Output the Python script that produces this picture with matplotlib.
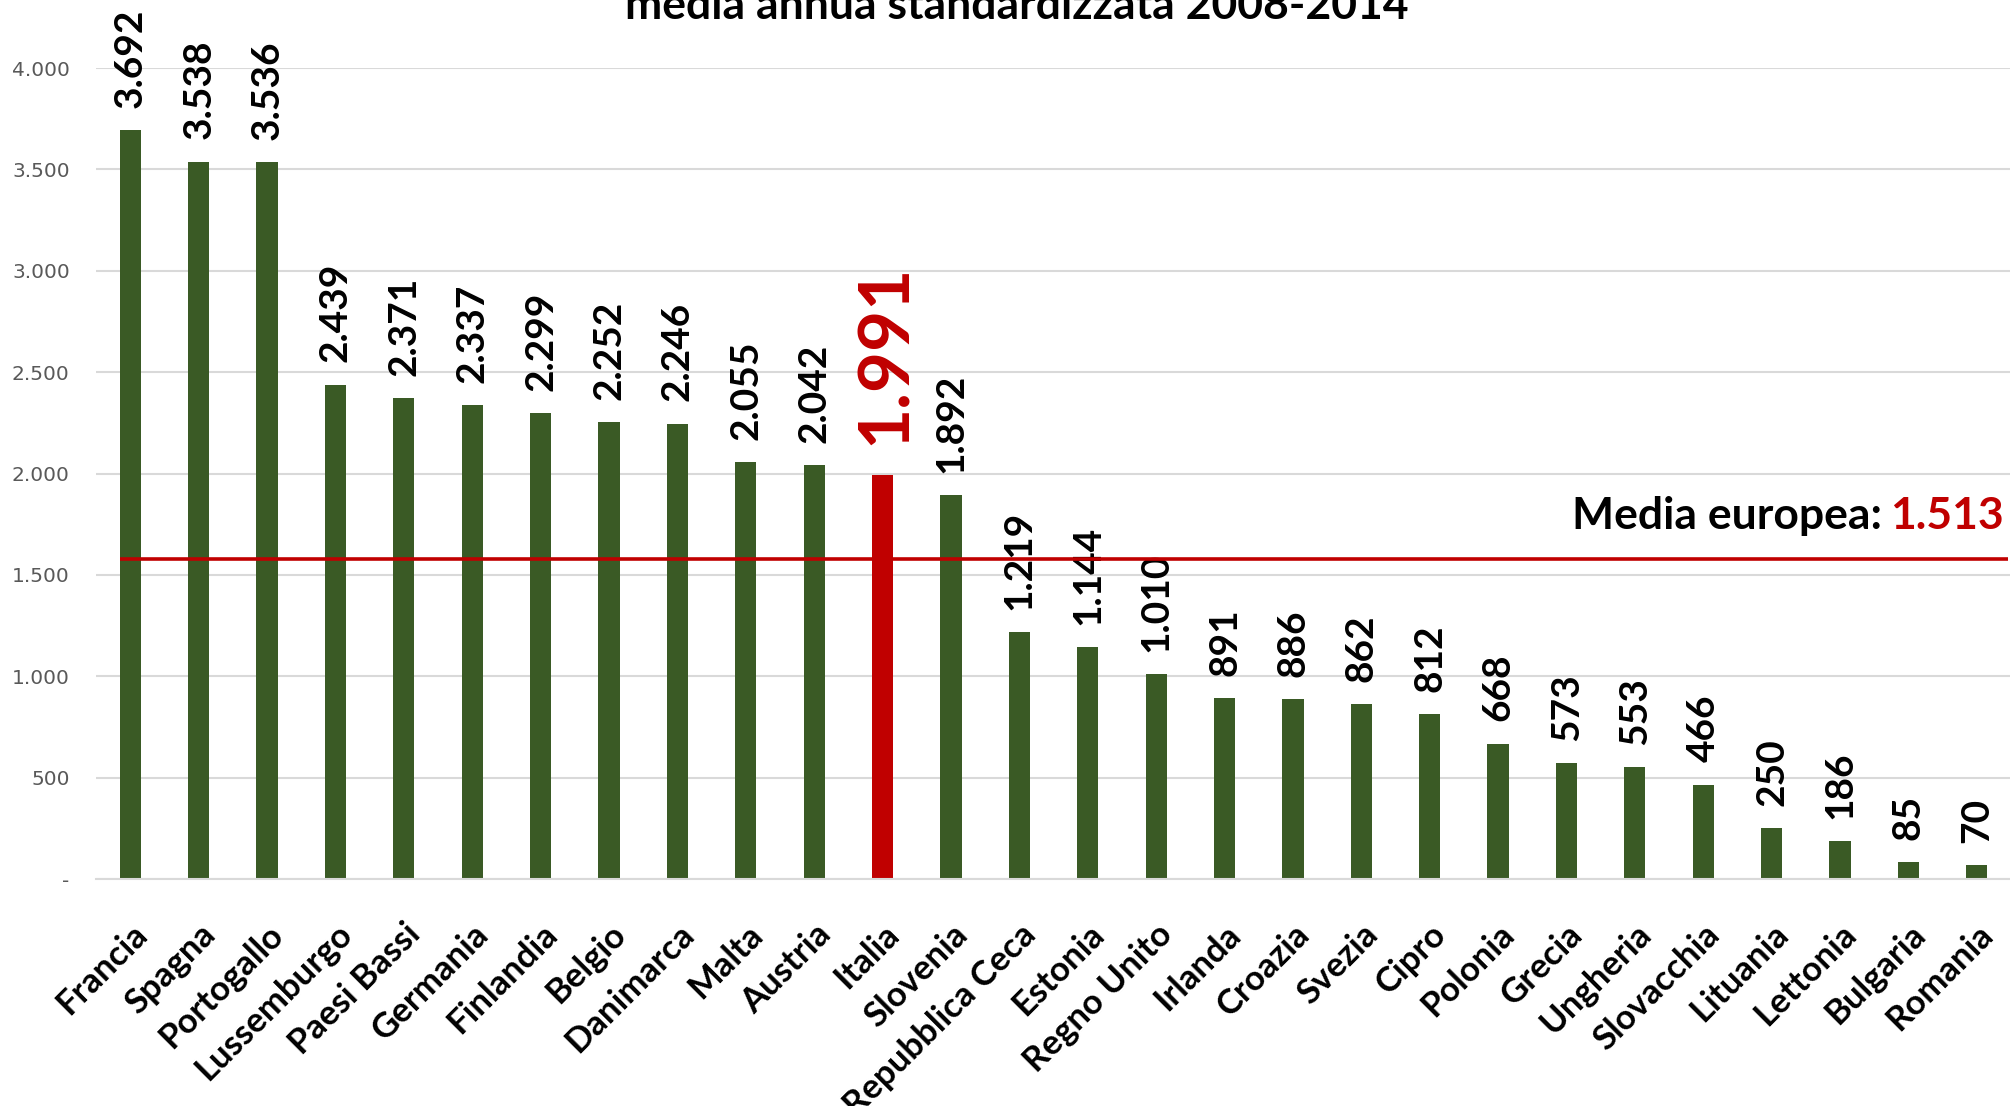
import matplotlib
matplotlib.use("Agg")
import matplotlib.pyplot as plt
from matplotlib.ticker import FuncFormatter

paesi = ["Francia", "Spagna", "Portogallo", "Lussemburgo", "Paesi Bassi", "Germania",
         "Finlandia", "Belgio", "Danimarca", "Malta", "Austria", "Italia", "Slovenia",
         "Repubblica Ceca", "Estonia", "Regno Unito", "Irlanda", "Croazia", "Svezia",
         "Cipro", "Polonia", "Grecia", "Ungheria", "Slovacchia", "Lituania", "Lettonia",
         "Bulgaria", "Romania"]
valori = [3692, 3538, 3536, 2439, 2371, 2337, 2299, 2252, 2246, 2055, 2042, 1991, 1892,
          1219, 1144, 1010, 891, 886, 862, 812, 668, 573, 553, 466, 250, 186, 85, 70]
evidenziato = "Italia"
media_testo = "1.513"
media_linea = 1580   # where the red line sits in the picture

verde = "#3A5A25"
rosso = "#C00000"
font = ["Lato", "DejaVu Sans"]


def migliaia(v, pos=None):
    if v == 0:
        return "-"
    return f"{int(v):,}".replace(",", ".")


fig = plt.figure(figsize=(20.1, 11.06), dpi=100)
ax = fig.add_axes([0.0478, 0.2052, 0.9527, 0.7333])

x = list(range(len(paesi)))
colori = [rosso if p == evidenziato else verde for p in paesi]
ax.bar(x, valori, width=0.31, color=colori, zorder=2)

# data labels
for xi, p, v in zip(x, paesi, valori):
    if p == evidenziato:
        ax.annotate(migliaia(v), (xi, v), xytext=(2, 22), textcoords="offset points",
                    rotation=90, ha="center", va="bottom", fontsize=51,
                    fontweight="bold", color=rosso, family=font, annotation_clip=False)
    else:
        ax.annotate(migliaia(v), (xi, v), xytext=(0, 16), textcoords="offset points",
                    rotation=90, ha="center", va="bottom", fontsize=28,
                    fontweight="bold", color="black", family=font, annotation_clip=False)

# european average
ax.hlines(media_linea, -0.15, 27.45, color=rosso, linewidth=2.6, zorder=3)

ax.set_xlim(-0.5, 27.5)
ax.set_ylim(0, 4000)
ax.set_yticks(range(0, 4001, 500))
ax.yaxis.set_major_formatter(FuncFormatter(migliaia))
ax.grid(axis="y", color="#D9D9D9", linewidth=1.5, zorder=0)
ax.set_axisbelow(True)
for s in ["top", "right", "left"]:
    ax.spines[s].set_visible(False)
ax.spines["bottom"].set_color("#D9D9D9")
ax.spines["bottom"].set_linewidth(1.5)
ax.tick_params(axis="y", length=0, pad=19, labelsize=14.5, labelcolor="#595959")
ax.tick_params(axis="x", length=0, pad=28)

ax.set_xticks(x)
ax.set_xticklabels(paesi, rotation=45, ha="right", rotation_mode="anchor",
                   fontsize=25, fontweight="bold", family=font)

fig.text(0.506, 0.983, "media annua standardizzata 2008-2014", ha="center",
         va="baseline", fontsize=32, fontweight="bold", family=font)

# two-colour average label
fig.canvas.draw()
r = fig.canvas.get_renderer()
t_num = ax.text(0.9965, 1790, media_testo, transform=ax.get_yaxis_transform(),
                ha="right", va="center", fontsize=32, fontweight="bold",
                color=rosso, family=font)
bb = t_num.get_window_extent(renderer=r)
x_px = bb.x0 - 9
x_ax = ax.transAxes.inverted().transform((x_px, 0))[0]
ax.text(x_ax, 1790, "Media europea:", transform=ax.get_yaxis_transform(),
        ha="right", va="center", fontsize=32, fontweight="bold",
        color="black", family=font)

fig.savefig("out.png", dpi=100)
